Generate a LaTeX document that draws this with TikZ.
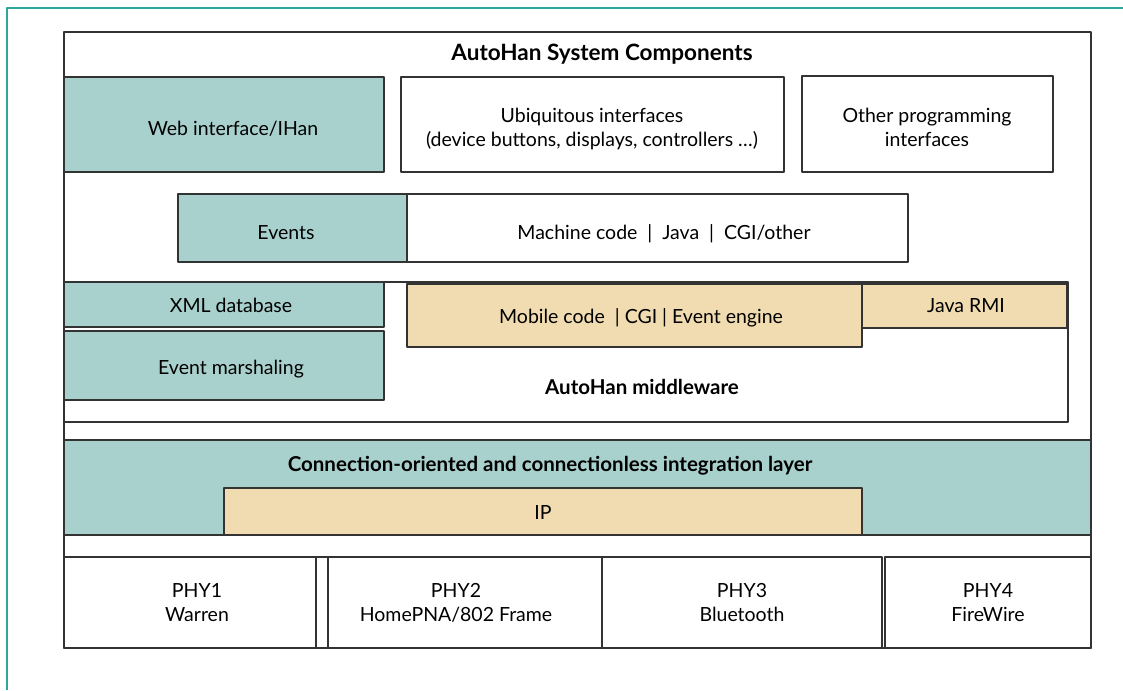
\documentclass[tikz,border=0pt]{standalone}
\usepackage{fontspec}
\setmainfont{Lato}
\usetikzlibrary{positioning}
\definecolor{tealfill}{HTML}{A8D1CD}
\definecolor{tanfill}{HTML}{F0DCB0}
\definecolor{framecol}{HTML}{2BA89B}
\definecolor{edgecol}{HTML}{333333}
\tikzset{
  blk/.style={rectangle,draw=edgecol,line width=1.3pt,inner sep=0pt,outer sep=0pt},
  plainbox/.style={blk,fill=white},
  tealbox/.style={blk,fill=tealfill},
  tanbox/.style={blk,fill=tanfill},
  txt/.style={inner sep=0pt,align=center,font=\fontsize{19.5}{24}\selectfont},
  headline/.style={inner sep=0pt,font=\fontsize{20.5}{24}\selectfont\bfseries},
  every picture/.style={line cap=round,line join=round}
}
\begin{document}
\begin{tikzpicture}[x=1pt,y=-1pt]
  \useasboundingbox[fill=white] (0,0) rectangle (1123,690);
  % page frame
  \coordinate (fbot) at (7,690);
  \coordinate (fcorner) at (7,8);
  \coordinate (fright) at (1123,8);
  \draw[framecol,line width=2.5pt,line cap=butt] (fbot) -- (fcorner) -- (fright);

  % system box
  \node[plainbox,minimum width=1027pt,minimum height=616pt] (sys) at (577.5,340) {};
  \node[headline,font=\fontsize{22.5}{26}\selectfont\bfseries] (title) at (602,54) {AutoHan System Components};

  % interfaces
  \node[tealbox,minimum width=320pt,minimum height=95pt] (web) at (224,124.5) {};
  \node[plainbox,minimum width=383pt,minimum height=95pt] (ubiq) at (592.5,124.5) {};
  \node[plainbox,minimum width=251pt,minimum height=96pt] (other) at (927.5,124) {};
  \node[txt] (webtext) at (233,128.5) {Web interface/IHan};
  \node[txt] (ubiqtext) at (592,129) {Ubiquitous interfaces\\(device buttons, displays, controllers \dots)};
  \node[txt] (othertext) at (927,127.5) {Other programming\\interfaces};

  % events row
  \node[tealbox,minimum width=229pt,minimum height=68pt] (events) at (292.5,228) {};
  \node[plainbox,minimum width=501pt,minimum height=68pt] (machine) at (657.5,228) {};
  \node[txt] (eventstext) at (286,233) {Events};
  \node[txt] (machinetext) at (664,233.5) {Machine code~~|~~Java~~|~~CGI/other};

  % middleware
  \node[plainbox,minimum width=1004pt,minimum height=140pt] (mware) at (566,352) {};
  \node[tealbox,minimum width=320pt,minimum height=45pt] (xmldb) at (224,304.5) {};
  \node[tealbox,minimum width=320pt,minimum height=69pt] (marshal) at (224,365.5) {};
  \node[tanbox,minimum width=455pt,minimum height=63pt] (mobile) at (634.5,315.5) {};
  \node[tanbox,minimum width=205pt,minimum height=44pt] (rmi) at (964.5,306) {};
  \node[txt] (xmltext) at (231,305.5) {XML database};
  \node[txt] (marshaltext) at (231,369.5) {Event marshaling};
  \node[txt] (mobiletext) at (641,317.5) {Mobile code~~| CGI | Event engine};
  \node[txt] (rmitext) at (966,305.5) {Java RMI};
  \node[headline] (mwlabel) at (642,387) {AutoHan middleware};

  % integration layer
  \node[tealbox,minimum width=1027pt,minimum height=95pt] (conn) at (577.5,487.5) {};
  \node[headline] (connlabel) at (550,466) {Connection-oriented and connectionless integration layer};
  \node[tanbox,minimum width=638pt,minimum height=47pt] (ip) at (543,511.5) {};
  \node[txt] (iptext) at (543,513) {IP};

  % physical layers
  \node[plainbox,minimum width=252pt,minimum height=91pt] (phy1) at (190,602.5) {};
  \node[plainbox,minimum width=12pt,minimum height=91pt] (phygap) at (322,602.5) {};
  \node[plainbox,minimum width=274pt,minimum height=91pt] (phy2) at (465,602.5) {};
  \node[plainbox,minimum width=280pt,minimum height=91pt] (phy3) at (742,602.5) {};
  \node[plainbox,minimum width=206pt,minimum height=91pt] (phy4) at (988,602.5) {};
  \node[txt] (phy1text) at (197,602.5) {PHY1\\Warren};
  \node[txt] (phy2text) at (456,602.5) {PHY2\\HomePNA/802 Frame};
  \node[txt] (phy3text) at (742,602.5) {PHY3\\Bluetooth};
  \node[txt] (phy4text) at (988,602.5) {PHY4\\FireWire};
\end{tikzpicture}
\end{document}
